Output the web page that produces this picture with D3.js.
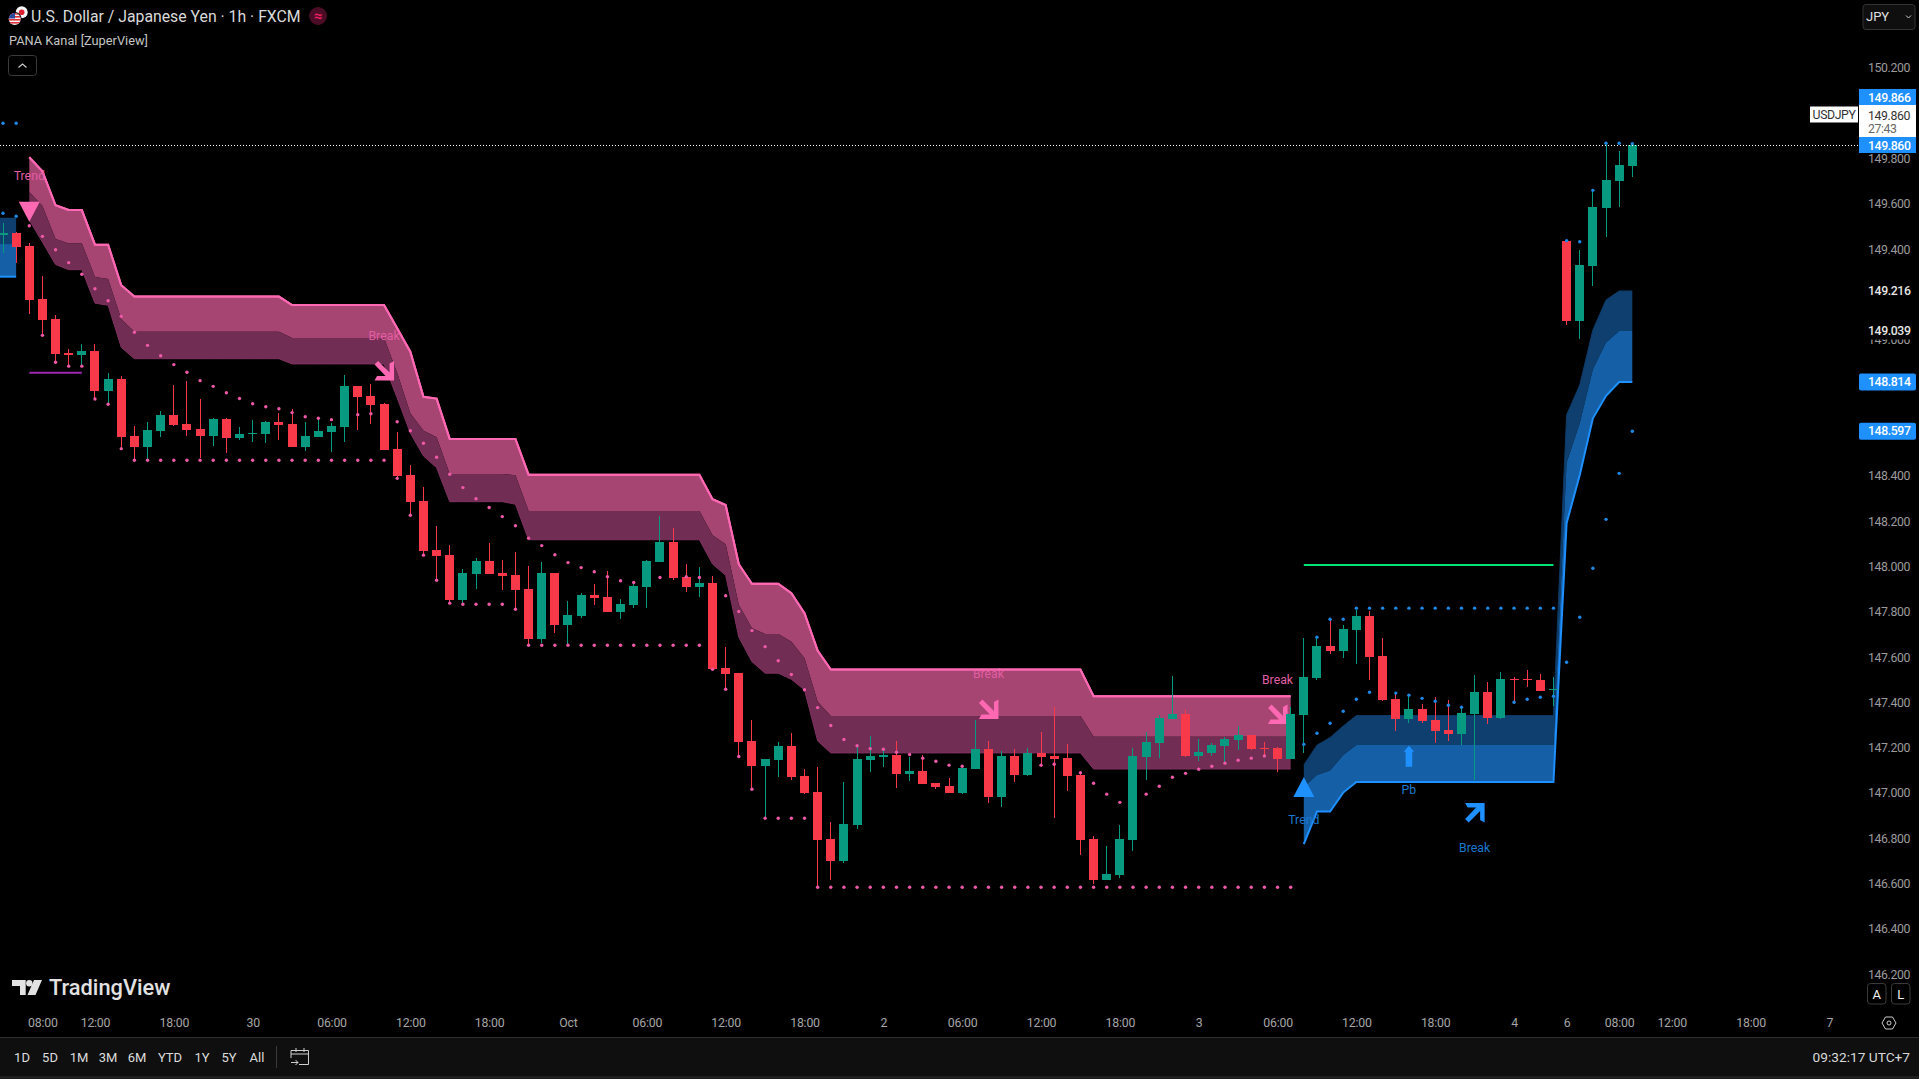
<!DOCTYPE html>
<html>
<head>
<meta charset="utf-8">
<script src="https://cdn.jsdelivr.net/npm/d3@7"></script>
<style>
  html, body { margin: 0; padding: 0; background: #000; overflow: hidden; }
  text { font-family: Roboto, "Noto Sans", sans-serif; }
</style>
</head>
<body>
<div id="chart"></div>
<script>
const width = 1919;
const height = 1079;
const pane_right = 1858;
const pane_bottom = 1037;

// candles, one entry per hourly bar
const opens = [
  149.465,149.470,149.414,149.181,149.092,148.942,148.933,148.951,148.775,148.828,
  148.576,148.527,148.598,148.669,148.629,148.607,148.576,148.651,148.567,148.585,
  148.585,148.638,148.629,148.527,148.572,148.594,148.616,148.797,148.753,148.717,
  148.519,148.404,148.289,148.073,148.051,147.852,147.967,148.024,147.971,147.963,
  147.901,147.680,147.971,147.742,147.782,147.874,147.865,147.799,147.830,147.910,
  148.020,148.108,147.954,147.910,147.927,147.552,147.530,147.230,147.120,147.146,
  147.208,147.076,147.005,146.798,146.700,146.859,147.146,147.159,147.168,147.084,
  147.098,147.045,147.031,147.001,147.106,147.195,146.983,147.164,147.080,147.177,
  147.164,147.155,147.080,146.798,146.617,146.639,146.793,147.159,147.221,147.327,
  147.349,147.164,147.177,147.208,147.234,147.256,147.199,147.199,147.151,147.345,
  147.508,147.649,147.627,147.720,147.782,147.605,147.415,147.327,147.371,147.323,
  147.279,147.261,147.349,147.446,147.331,147.504,147.504,147.499,147.455,149.436,
  149.083,149.326,149.582,149.701,149.767];
const highs = [
  149.516,149.478,149.426,149.282,149.110,148.960,148.982,148.982,148.854,148.841,
  148.620,148.638,148.686,148.801,148.819,148.739,148.655,148.655,148.616,148.647,
  148.642,148.677,148.695,148.638,148.655,148.633,148.845,148.797,148.805,148.722,
  148.594,148.448,148.351,148.179,148.095,147.989,148.038,148.104,148.029,148.064,
  148.002,148.020,147.971,147.848,147.883,147.923,147.980,147.857,147.927,148.029,
  148.223,148.170,148.011,147.998,147.958,147.645,147.530,147.323,147.151,147.226,
  147.265,147.106,147.115,146.873,147.049,147.212,147.252,147.199,147.230,147.159,
  147.168,147.045,147.067,147.120,147.323,147.230,147.186,147.195,147.199,147.270,
  147.380,147.217,147.098,146.811,146.767,146.859,147.199,147.270,147.345,147.517,
  147.367,147.239,147.221,147.248,147.296,147.256,147.226,147.204,147.380,147.685,
  147.689,147.764,147.742,147.808,147.804,147.685,147.442,147.433,147.393,147.424,
  147.411,147.380,147.521,147.490,147.535,147.512,147.543,147.526,147.512,149.436,
  149.397,149.662,149.869,149.834,149.866];
const lows = [
  149.384,149.341,149.116,149.020,148.897,148.882,148.882,148.739,148.713,148.519,
  148.470,148.470,148.572,148.620,148.576,148.479,148.532,148.501,148.558,148.549,
  148.545,148.558,148.527,148.510,148.572,148.505,148.549,148.602,148.629,148.514,
  148.382,148.223,148.046,147.936,147.835,147.835,147.901,147.967,147.896,147.808,
  147.654,147.662,147.707,147.649,147.773,147.830,147.799,147.768,147.817,147.817,
  148.020,147.940,147.888,147.865,147.543,147.455,147.159,147.014,146.890,147.071,
  147.058,146.996,146.581,146.617,146.692,146.842,147.093,147.115,147.023,147.053,
  147.040,147.018,147.001,146.996,147.106,146.956,146.939,147.049,147.076,147.115,
  146.890,147.009,146.727,146.599,146.617,146.625,146.744,147.058,147.155,147.327,
  147.159,147.142,147.164,147.129,147.190,147.190,147.159,147.093,147.151,147.177,
  147.499,147.614,147.596,147.570,147.499,147.406,147.274,147.309,147.309,147.221,
  147.230,147.212,147.058,147.305,147.327,147.393,147.468,147.451,147.384,149.066,
  149.004,149.238,149.454,149.587,149.719];
const closes = [
  149.470,149.411,149.176,149.088,148.938,148.933,148.951,148.775,148.828,148.572,
  148.527,148.602,148.669,148.625,148.602,148.576,148.651,148.567,148.585,148.589,
  148.638,148.625,148.527,148.576,148.598,148.620,148.797,148.748,148.713,148.514,
  148.399,148.285,148.068,148.046,147.852,147.971,148.024,147.967,147.958,147.896,
  147.680,147.971,147.742,147.786,147.874,147.861,147.799,147.835,147.914,148.024,
  148.108,147.949,147.910,147.927,147.548,147.526,147.226,147.120,147.151,147.208,
  147.071,147.001,146.793,146.700,146.864,147.151,147.164,147.168,147.084,147.098,
  147.040,147.027,147.001,147.111,147.195,146.983,147.164,147.080,147.177,147.159,
  147.151,147.076,146.793,146.617,146.643,146.798,147.164,147.226,147.331,147.349,
  147.164,147.181,147.212,147.239,147.256,147.195,147.195,147.151,147.349,147.512,
  147.649,147.627,147.724,147.782,147.601,147.411,147.327,147.371,147.318,147.274,
  147.261,147.354,147.446,147.331,147.504,147.499,147.499,147.451,147.459,149.083,
  149.331,149.587,149.706,149.772,149.860];

// pink channel, bars 2 to 98
const pink_start = 2;
const pink_top = [
  149.806,149.744,149.594,149.573,149.573,149.420,149.420,149.241,
  149.191,149.191,149.191,149.191,149.191,149.191,149.191,149.191,149.191,149.191,149.191,149.191,
  149.154,149.154,149.154,149.154,149.154,149.154,149.154,149.154,
  149.051,148.948,148.749,148.741,
  148.563,148.563,148.563,148.563,148.563,148.563,
  148.405,148.405,148.405,148.405,148.405,148.405,148.405,148.405,148.405,148.405,148.405,148.405,148.405,148.405,
  148.297,148.271,148.010,147.924,147.924,147.924,147.882,147.794,147.629,
  147.545,147.545,147.545,147.545,147.545,147.545,147.545,147.545,147.545,147.545,
  147.545,147.545,147.545,147.545,147.545,147.545,147.545,147.545,147.545,147.545,
  147.427,147.427,147.427,147.427,147.427,147.427,147.427,147.427,
  147.427,147.427,147.427,147.427,147.427,147.427,147.427,147.427];
const pink_mid = [
  149.653,149.591,149.445,149.425,149.425,149.278,149.269,149.091,
  149.036,149.036,149.036,149.036,149.036,149.036,149.036,149.036,149.036,149.036,149.036,149.036,
  149.008,149.008,149.008,149.008,149.008,149.008,149.008,149.008,
  148.854,148.676,148.599,148.570,
  148.408,148.408,148.408,148.408,148.408,148.403,
  148.245,148.245,148.245,148.245,148.245,148.245,148.245,148.245,148.245,148.245,148.245,148.245,148.245,148.245,
  148.138,148.098,147.830,147.727,147.702,147.702,147.668,147.595,147.403,
  147.340,147.340,147.340,147.340,147.340,147.340,147.340,147.340,147.340,147.340,
  147.340,147.340,147.340,147.340,147.340,147.340,147.340,147.340,147.340,147.340,
  147.248,147.248,147.248,147.248,147.248,147.248,147.248,147.248,
  147.248,147.248,147.248,147.248,147.248,147.248,147.248,147.248];
const pink_bottom = [
  149.529,149.432,149.333,149.310,149.310,149.162,149.153,148.967,
  148.917,148.917,148.917,148.917,148.917,148.917,148.917,148.917,148.917,148.917,148.917,148.917,
  148.894,148.894,148.894,148.894,148.894,148.894,148.894,148.894,
  148.744,148.589,148.488,148.436,
  148.286,148.286,148.286,148.286,148.286,148.275,
  148.118,148.118,148.118,148.118,148.118,148.118,148.118,148.118,148.118,148.118,148.118,148.118,148.118,148.118,
  148.011,147.961,147.688,147.580,147.529,147.529,147.502,147.455,147.230,
  147.177,147.177,147.177,147.177,147.177,147.177,147.177,147.177,147.177,147.177,
  147.177,147.177,147.177,147.177,147.177,147.177,147.177,147.177,147.177,147.177,
  147.106,147.106,147.106,147.106,147.106,147.106,147.106,147.106,
  147.106,147.106,147.106,147.106,147.106,147.106,147.106,147.106];

// pink trail dots, same bars, null where the plot skips
const pink_dots_upper = [
  149.504,149.457,149.398,149.341,149.290,149.226,149.173,149.104,149.034,148.976,
  148.930,148.891,148.857,148.820,148.795,148.767,148.741,148.718,148.705,148.696,
  148.679,148.661,148.654,148.648,null,148.670,148.674,null,148.639,148.599,
  148.544,148.482,148.407,148.348,148.299,148.260,148.220,148.180,148.125,148.092,
  148.052,148.017,147.995,147.977,147.955,147.937,147.929,null,147.951,null,
  147.955,147.951,null,147.871,147.801,147.717,147.646,147.584,147.523,147.456,
  147.377,147.298,147.236,147.209,147.196,147.193,147.180,147.170,147.154,147.140,
  147.123,147.118,null,null,null,null,null,147.123,147.127,null,
  147.090,147.043,146.995,146.959,null,146.995,147.030,147.070,147.087,147.105,
  147.118,147.132,147.145,147.154,147.164,null,null];
const pink_dots_lower = [
  null,149.020,148.901,148.884,148.884,148.739,148.716,148.520,
  148.469,148.469,148.469,148.469,148.469,148.469,148.469,148.469,148.469,148.469,
  148.469,148.469,148.469,148.469,148.469,148.469,148.469,148.469,148.469,148.469,
  148.389,148.226,148.050,147.939,147.838,147.833,147.833,147.833,147.833,147.811,
  147.652,147.652,147.652,147.652,147.652,147.652,147.652,147.652,147.652,147.652,147.652,147.652,147.652,147.652,
  147.546,147.458,147.161,147.017,146.889,146.889,146.889,146.889,
  146.584,146.584,146.584,146.584,146.584,146.584,146.584,146.584,146.584,146.584,
  146.584,146.584,146.584,146.584,146.584,146.584,146.584,146.584,146.584,146.584,
  146.584,146.584,146.584,146.584,146.584,146.584,146.584,146.584,146.584,146.584,
  146.584,146.584,146.584,146.584,146.584,146.584,146.584];

// blue channel, bars 99 to 124
const blue_start = 99;
const blue_top = [
  147.124,147.211,147.245,147.296,
  147.342,147.342,147.342,147.342,147.342,147.342,147.342,147.342,
  147.342,147.342,147.342,147.342,147.342,147.342,147.342,147.342,
  148.669,148.801,149.044,149.176,149.216,149.216];
const blue_mid = [
  147.027,147.080,147.099,147.168,
  147.212,147.212,147.212,147.212,147.212,147.212,147.212,147.212,
  147.212,147.212,147.212,147.212,147.212,147.212,147.212,147.212,
  148.458,148.632,148.870,148.988,149.039,149.039];
const blue_bottom = [
  146.775,146.918,146.918,147.002,
  147.049,147.049,147.049,147.049,147.049,147.049,147.049,147.049,
  147.049,147.049,147.049,147.049,147.049,147.049,147.049,147.049,
  148.191,148.404,148.654,148.753,148.814,148.814];
const blue_dots_upper = [
  null,147.688,147.767,147.767,
  147.816,147.816,147.816,147.816,147.816,147.816,147.816,147.816,
  147.816,147.816,147.816,147.816,147.816,147.816,147.816,147.816,
  149.438,149.433,149.660,149.868,149.868,149.866];
const blue_dots_lower = [
  147.215,147.264,147.308,147.361,147.414,147.445,null,147.441,147.432,147.418,
  147.405,147.388,147.379,null,null,null,147.401,147.414,147.423,147.427,
  147.577,147.776,147.992,148.208,148.411,148.597];

// tail of the older blue channel at the left edge
const old_bars = [-1, 0, 1];
const old_top = [149.539, 149.539, 149.539];
const old_mid = [149.423, 149.423, 149.423];
const old_bottom = [149.279, 149.279, 149.279];
const old_dots_bars = [0, 1, 0, 1];
const old_dots = [149.956, 149.956, 149.559, 149.546];

// levels
const purple_bars = [2, 6];
const purple_price = 148.855;
const green_bars = [99, 118];
const green_price = 148.007;
const last_price = 149.860;

// signals
const trend_down = { bar: 2, price: 149.566 };
const trend_up = { bar: 99, price: 147.027 };
const break_down_bars = [29, 75, 97];
const break_down_prices = [148.865, 147.371, 147.349];
const break_up = { bar: 112, price: 146.912 };
const pullback = { bar: 107, price: 147.162 };

// axes
const price_ticks = [150.2,150.0,149.8,149.6,149.4,149.2,149.0,148.8,148.6,148.4,148.2,148.0,
  147.8,147.6,147.4,147.2,147.0,146.8,146.6,146.4,146.2];
const time_bars = [3,7,13,19,25,31,37,43,49,55,61,67,73,79,85,91,97,103,109,115,119,123,127,133,139];
const time_labels = ['08:00','12:00','18:00','30','06:00','12:00','18:00','Oct','06:00','12:00','18:00','2',
  '06:00','12:00','18:00','3','06:00','12:00','18:00','4','6','08:00','12:00','18:00','7'];
const plain_tags = [149.216, 149.039];
const blue_tags = [148.814, 148.597];
const range_buttons = ['1D','5D','1M','3M','6M','YTD','1Y','5Y','All'];
const range_button_x = [22,50,79,108,137,170,202,229,257];

const up_color = '#089981';
const down_color = '#f7394a';
const pink = '#ff69b4';
const blue = '#1e90ff';
const axis_font_size = 12.3;
const axis_spacing = -0.4;

const x_scale = d3.scaleLinear().domain([0, 124]).range([3, 1632.3]);
const y_scale = d3.scaleLinear().domain([146.2, 150.2]).range([974.3, 68]);

const svg = d3.select('#chart')
  .append('svg')
    .attr('width', width)
    .attr('height', height)
    .style('display', 'block');

svg.append('rect').attr('width', width).attr('height', height).attr('fill', '#000');

svg.append('clipPath').attr('id', 'pane')
  .append('rect').attr('width', pane_right).attr('height', pane_bottom);
const pane = svg.append('g').attr('clip-path', 'url(#pane)');

// channel bands
const band = (values_a, values_b, first, color, bars) => {
  const area = d3.area()
    .x((d, i) => x_scale(bars ? bars[i] : first + i))
    .y0(d => y_scale(d))
    .y1((d, i) => y_scale(values_b[i]));
  pane.append('path').datum(values_a).attr('d', area).attr('fill', color);
};
const edge = (values, first, color, stroke_width, bars) => {
  const line = d3.line()
    .x((d, i) => x_scale(bars ? bars[i] : first + i))
    .y(d => y_scale(d));
  pane.append('path').datum(values).attr('d', line)
    .attr('fill', 'none').attr('stroke', color).attr('stroke-width', stroke_width);
};

band(old_top, old_mid, 0, '#0f3f6f', old_bars);
band(old_mid, old_bottom, 0, '#155fa6', old_bars);
edge(old_bottom, 0, blue, 2, old_bars);

band(pink_top, pink_mid, pink_start, '#a64472');
band(pink_mid, pink_bottom, pink_start, '#712d53');
edge(pink_bottom, pink_start, '#7f3160', 1);
edge(pink_top, pink_start, pink, 2);

band(blue_top, blue_mid, blue_start, '#0f3f6f');
band(blue_mid, blue_bottom, blue_start, '#155fa6');
edge(blue_top, blue_start, '#0e3a66', 1);
edge(blue_bottom, blue_start, blue, 2);

// level lines
pane.append('line')
  .attr('x1', x_scale(purple_bars[0])).attr('x2', x_scale(purple_bars[1]))
  .attr('y1', y_scale(purple_price)).attr('y2', y_scale(purple_price))
  .attr('stroke', '#9c27b0').attr('stroke-width', 2);
pane.append('line')
  .attr('x1', x_scale(green_bars[0])).attr('x2', x_scale(green_bars[1]))
  .attr('y1', y_scale(green_price)).attr('y2', y_scale(green_price))
  .attr('stroke', '#00e676').attr('stroke-width', 2);

// signals
const arrow_down_path = 'M10,10 L-9.5,10 L-7,5.5 L1.5,5.5 L-9.5,-6 L-6,-9.5 L5.5,2 L5.5,-7 L10,-9.5 Z';
const mark = (d, shape, color, flip) => pane.append('path')
  .attr('d', shape)
  .attr('fill', color)
  .attr('transform', `translate(${x_scale(d.bar)},${y_scale(d.price)})${flip ? ' scale(1,-1)' : ''}`);
const mark_text = (d, label, dy, color) => pane.append('text')
  .attr('x', x_scale(d.bar))
  .attr('y', y_scale(d.price) + dy)
  .attr('text-anchor', 'middle')
  .attr('font-size', 12.3)
  .attr('fill', color)
  .text(label);

const break_down_offsets = [-30.5, -31, -30];
break_down_bars.forEach((bar, i) => {
  const d = { bar: bar, price: break_down_prices[i] };
  mark_text(d, 'Break', break_down_offsets[i], '#e25ea3');
  mark(d, arrow_down_path, pink);
});
// channel line runs over the middle label in the original
edge(pink_top, pink_start, pink, 2);

mark(trend_down, 'M-10.5,-10 L10.5,-10 L0,10 Z', pink);
mark_text(trend_down, 'Trend', -31.7, '#e25ea3');
mark(trend_up, 'M-10.5,10 L10.5,10 L0,-10 Z', blue);
mark_text(trend_up, 'Trend', 37.3, '#1b78d0');
mark(break_up, arrow_down_path, blue, true);
mark_text(break_up, 'Break', 38.7, '#1b78d0');
mark(pullback, 'M0,-10.5 L5.3,-4.5 L3.3,-4.5 L3.3,10.5 L-3.3,10.5 L-3.3,-4.5 L-5.3,-4.5 Z', blue);
mark_text(pullback, 'Pb', 37.7, '#1b78d0');

// candles
const candles = pane.append('g')
  .attr('shape-rendering', 'crispEdges')
  .selectAll('g')
  .data(opens)
  .join('g')
    .attr('fill', (d, i) => closes[i] >= d ? up_color : down_color);
candles.append('rect')
  .attr('x', (d, i) => Math.floor(x_scale(i)))
  .attr('width', 1)
  .attr('y', (d, i) => Math.round(y_scale(highs[i])))
  .attr('height', (d, i) => Math.round(y_scale(lows[i])) - Math.round(y_scale(highs[i])));
candles.append('rect')
  .attr('x', (d, i) => Math.floor(x_scale(i)) - 4)
  .attr('width', 9)
  .attr('y', (d, i) => Math.round(y_scale(Math.max(d, closes[i]))))
  .attr('height', (d, i) => Math.max(1, Math.round(y_scale(Math.min(d, closes[i]))) - Math.round(y_scale(Math.max(d, closes[i])))));

// trail dots
const dots = (values, first, color, bars) => {
  pane.append('g').selectAll('circle')
    .data(values.map((v, i) => ({ bar: bars ? bars[i] : first + i, price: v })).filter(d => d.price !== null))
    .join('circle')
      .attr('cx', d => x_scale(d.bar))
      .attr('cy', d => y_scale(d.price))
      .attr('r', 1.7)
      .attr('fill', color);
};
dots(pink_dots_upper, pink_start, '#ee5aa8');
dots(pink_dots_lower, pink_start, '#ee5aa8');
dots(blue_dots_upper, blue_start, '#1e88e5');
dots(blue_dots_lower, blue_start, '#1e88e5');
dots(old_dots, 0, '#1e88e5', old_dots_bars);

// last price line
pane.append('line')
  .attr('x1', 0).attr('x2', pane_right)
  .attr('y1', Math.round(y_scale(last_price)) + 0.5).attr('y2', Math.round(y_scale(last_price)) + 0.5)
  .attr('stroke', '#fff').attr('stroke-dasharray', '1 2');

// price axis
const y_axis = svg.append('g')
  .attr('transform', `translate(${pane_right + 1},0)`)
  .call(d3.axisRight(y_scale).tickValues(price_ticks).tickFormat(d3.format('.3f')).tickSize(0).tickPadding(9));
y_axis.select('.domain').remove();
y_axis.selectAll('text')
  .attr('fill', '#9b9b9b')
  .attr('font-size', axis_font_size)
  .attr('letter-spacing', axis_spacing)
  .attr('font-family', 'Roboto');

const tag_text = (parent, price, fill, weight) => parent.append('text')
  .attr('x', pane_right + 10)
  .attr('y', y_scale(price) + 4.3)
  .attr('font-size', axis_font_size)
  .attr('letter-spacing', axis_spacing)
  .attr('font-weight', weight)
  .attr('fill', fill)
  .text(d3.format('.3f')(price));

plain_tags.forEach(price => {
  svg.append('rect')
    .attr('x', pane_right + 1).attr('width', 57)
    .attr('y', y_scale(price) - 8.5).attr('height', 17)
    .attr('fill', '#000');
  tag_text(svg, price, '#e6e6e6', 500);
});
blue_tags.forEach(price => {
  svg.append('rect')
    .attr('x', pane_right + 1).attr('width', 57)
    .attr('y', y_scale(price) - 8.5).attr('height', 17).attr('rx', 2)
    .attr('fill', blue);
  tag_text(svg, price, '#fff', 500);
});

// last price tags stacked at the top of the axis
const stack_text = (y, label, fill, weight) => svg.append('text')
  .attr('x', 1868).attr('y', y)
  .attr('font-size', axis_font_size)
  .attr('letter-spacing', axis_spacing)
  .attr('font-weight', weight)
  .attr('fill', fill)
  .text(label);
svg.append('rect').attr('x', 1859).attr('width', 57).attr('y', 105).attr('height', 32).attr('fill', '#fff');
svg.append('rect').attr('x', 1859).attr('width', 57).attr('y', 89).attr('height', 16).attr('fill', blue);
svg.append('rect').attr('x', 1859).attr('width', 57).attr('y', 137).attr('height', 16).attr('fill', blue);
stack_text(101.5, '149.866', '#fff', 500);
stack_text(119.5, '149.860', '#333', 400);
stack_text(133, '27:43', '#666', 400);
stack_text(149.5, '149.860', '#fff', 500);
svg.append('rect').attr('x', 1810).attr('width', 48).attr('y', 106.5).attr('height', 16).attr('fill', '#fff');
svg.append('text').attr('x', 1834).attr('y', 119).attr('text-anchor', 'middle').attr('font-size', axis_font_size)
  .attr('letter-spacing', axis_spacing).attr('fill', '#333').text('USDJPY');

// currency dropdown
svg.append('rect').attr('x', 1863).attr('y', 4.5).attr('width', 52).attr('height', 25).attr('rx', 3)
  .attr('fill', '#0f0f0f').attr('stroke', '#333');
svg.append('text').attr('x', 1866).attr('y', 21).attr('font-size', 13).attr('fill', '#e0e0e0').text('JPY');
svg.append('path').attr('d', 'M1906,15.5 l2.5,2.5 l2.5,-2.5').attr('fill', 'none').attr('stroke', '#ccc');

// auto / log buttons
[['A', 1867.5], ['L', 1891.5]].forEach(b => {
  svg.append('rect').attr('x', b[1]).attr('y', 983.5).attr('width', 18.5).attr('height', 20.5).attr('rx', 3)
    .attr('fill', 'none').attr('stroke', '#3a3a3a');
  svg.append('text').attr('x', b[1] + 9.25).attr('y', 998.5).attr('text-anchor', 'middle')
    .attr('font-size', 13).attr('fill', '#eee').text(b[0]);
});

// time axis
const x_axis = svg.append('g')
  .attr('transform', 'translate(0,1015)')
  .call(d3.axisBottom(x_scale).tickValues(time_bars).tickFormat((d, i) => time_labels[i]).tickSize(0).tickPadding(3));
x_axis.select('.domain').remove();
x_axis.selectAll('text')
  .attr('fill', '#a5a5a5')
  .attr('font-size', 12.3)
  .attr('letter-spacing', -0.2)
  .attr('font-family', 'Roboto');

// settings gear
svg.append('path').attr('d', 'M1882,1023 l3.5,-6 h7 l3.5,6 l-3.5,6 h-7 Z').attr('fill', 'none').attr('stroke', '#ccc');
svg.append('circle').attr('cx', 1889).attr('cy', 1023).attr('r', 2).attr('fill', 'none').attr('stroke', '#ccc');

// bottom toolbar
svg.append('rect').attr('y', pane_bottom).attr('width', width).attr('height', 39).attr('fill', '#0f0f0f');
svg.append('rect').attr('y', pane_bottom).attr('width', width).attr('height', 1).attr('fill', '#2e2e2e');
svg.append('rect').attr('y', 1076).attr('width', width).attr('height', 3).attr('fill', '#1e1e1e');
svg.append('g').selectAll('text')
  .data(range_buttons)
  .join('text')
    .attr('x', (d, i) => range_button_x[i])
    .attr('y', 1061.5)
    .attr('text-anchor', 'middle')
    .attr('font-size', 13)
    .attr('fill', '#dcdcdc')
    .text(d => d);
svg.append('rect').attr('x', 276).attr('y', 1046).attr('width', 1).attr('height', 22).attr('fill', '#3a3a3a');
svg.append('path')
  .attr('d', 'M291,1058 V1050.5 H308.5 V1064.5 H299 M291,1054 H308.5 M296,1048 V1052 M304,1048 V1052 M291,1062.5 H298 M295.5,1060 L298,1062.5 L295.5,1065')
  .attr('fill', 'none').attr('stroke', '#d0d0d0');
svg.append('text').attr('x', 1910).attr('y', 1061.5).attr('text-anchor', 'end').attr('font-size', 13.7).attr('fill', '#d8d8d8').text('09:32:17 UTC+7');

// header
svg.append('circle').attr('cx', 21.7).attr('cy', 12.3).attr('r', 6).attr('fill', '#f5f5f5');
svg.append('circle').attr('cx', 21.7).attr('cy', 12.3).attr('r', 2.8).attr('fill', '#e0202f');
svg.append('clipPath').attr('id', 'flag').append('circle').attr('cx', 14.7).attr('cy', 19).attr('r', 6);
svg.append('circle').attr('cx', 14.7).attr('cy', 19).attr('r', 7).attr('fill', '#000');
const flag = svg.append('g').attr('clip-path', 'url(#flag)');
flag.append('rect').attr('x', 8).attr('y', 13).attr('width', 14).attr('height', 12).attr('fill', '#f5f5f5');
[13, 16, 19, 22].forEach(y => flag.append('rect').attr('x', 8).attr('y', y).attr('width', 14).attr('height', 1.6).attr('fill', '#e0303a'));
flag.append('rect').attr('x', 8).attr('y', 13).attr('width', 7).attr('height', 5.5).attr('fill', '#2a4a9e');

svg.append('text').attr('x', 31).attr('y', 21.5).attr('font-size', 15.8).attr('fill', '#dadada')
  .text('U.S. Dollar / Japanese Yen · 1h · FXCM');
svg.append('circle').attr('cx', 318).attr('cy', 16).attr('r', 9).attr('fill', '#4b0c26');
svg.append('text').attr('x', 318).attr('y', 20.5).attr('text-anchor', 'middle').attr('font-size', 15).attr('font-weight', 700).attr('fill', '#e91e63').text('≈');
svg.append('text').attr('x', 9).attr('y', 45).attr('font-size', 12.8).attr('fill', '#c4c4c4').text('PANA Kanal [ZuperView]');
svg.append('rect').attr('x', 8.5).attr('y', 55.5).attr('width', 28).attr('height', 20).attr('rx', 3)
  .attr('fill', 'none').attr('stroke', '#3a3a3a');
svg.append('path').attr('d', 'M18.5,67.5 l4,-3.5 l4,3.5').attr('fill', 'none').attr('stroke', '#ccc').attr('stroke-width', 1.2);

// watermark
svg.append('path')
  .attr('d', 'M12,980 H25.7 V995 H20 V986 H12 Z M34,980 H42 L35.5,995 H27.5 Z')
  .attr('fill', '#e2e2e2');
svg.append('circle').attr('cx', 29.3).attr('cy', 983.2).attr('r', 3.2).attr('fill', '#e2e2e2');
svg.append('text').attr('x', 49).attr('y', 995).attr('font-size', 21.8).attr('font-weight', 500).attr('fill', '#e2e2e2').text('TradingView');
</script>
</body>
</html>
